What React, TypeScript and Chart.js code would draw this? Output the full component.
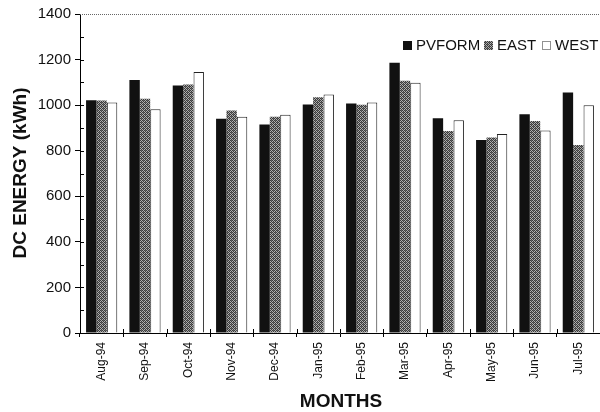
import React, { useEffect, useRef } from "react";
import { Chart, registerables } from "chart.js";

Chart.register(...registerables);

const months = ["Aug-94", "Sep-94", "Oct-94", "Nov-94", "Dec-94", "Jan-95", "Feb-95", "Mar-95", "Apr-95", "May-95", "Jun-95", "Jul-95"];
const pvform = [1022, 1110, 1086, 940, 915, 1003, 1007, 1186, 942, 847, 960, 1056];
const east = [1020, 1028, 1091, 977, 949, 1035, 1002, 1107, 886, 858, 930, 825];
const west = [1012, 982, 1146, 949, 958, 1047, 1012, 1098, 934, 873, 889, 999];
const yTicks = [0, 200, 400, 600, 800, 1000, 1200, 1400];
const seriesNames = ["PVFORM", "EAST", "WEST"];

const FONT = '"Liberation Sans", Arial, Helvetica, sans-serif';

function makePattern(): CanvasPattern | string {
  const c = document.createElement("canvas");
  c.width = 4;
  c.height = 4;
  const g = c.getContext("2d");
  if (!g) return "#777";
  g.fillStyle = "#b0b0b0";
  g.fillRect(0, 0, 4, 4);
  g.fillStyle = "#3a3a3a";
  for (let y = 0; y < 4; y++) {
    for (let x = 0; x < 4; x++) {
      if ((x + y) % 2 === 0) g.fillRect(x, y, 1, 1);
    }
  }
  g.fillStyle = "#666";
  g.fillRect(1, 2, 1, 1);
  g.fillRect(3, 0, 1, 1);
  const p = g.createPattern(c, "repeat");
  return p || "#777";
}

export default function App() {
  const ref = useRef<HTMLCanvasElement | null>(null);

  useEffect(() => {
    if (!ref.current) return;
    const pattern = makePattern();

    const decor = {
      id: "decor",
      afterDraw(chart: any) {
        const ctx = chart.ctx as CanvasRenderingContext2D;
        const a = chart.chartArea;
        const ys = chart.scales.y;
        const xs = chart.scales.x;
        ctx.save();
        // top dotted border
        ctx.strokeStyle = "#666";
        ctx.lineWidth = 1;
        ctx.setLineDash([1, 1]);
        ctx.beginPath();
        ctx.moveTo(a.left, a.top + 0.5);
        ctx.lineTo(a.right, a.top + 0.5);
        ctx.stroke();
        ctx.setLineDash([]);
        // inner ticks on y axis (every 100)
        ctx.strokeStyle = "#000";
        ctx.beginPath();
        for (let v = 100; v < 1400; v += 100) {
          const py = Math.round(ys.getPixelForValue(v)) + 0.5;
          ctx.moveTo(a.left, py);
          ctx.lineTo(a.left + 4, py);
        }
        // inner ticks on x axis at category boundaries
        const n = months.length;
        for (let i = 1; i < n; i++) {
          const px = Math.round((xs.getPixelForValue(i - 1) + xs.getPixelForValue(i)) / 2) + 0.5;
          ctx.moveTo(px, a.bottom);
          ctx.lineTo(px, a.bottom - 4);
        }
        ctx.stroke();

        // legend
        ctx.font = `15px ${FONT}`;
        ctx.textBaseline = "alphabetic";
        ctx.textAlign = "left";
        const fills: any[] = ["#111", pattern, "#fff"];
        const boxX = [403, 484, 542];
        for (let i = 0; i < 3; i++) {
          ctx.fillStyle = fills[i];
          ctx.fillRect(boxX[i], 41, 9, 9);
          if (i === 2) {
            ctx.strokeStyle = "#222";
            ctx.setLineDash([1, 1]);
            ctx.strokeRect(boxX[i] + 0.5, 41.5, 8, 8);
            ctx.setLineDash([]);
          }
          ctx.fillStyle = "#111";
          ctx.fillText(seriesNames[i], boxX[i] + 13, 50);
        }

        // axis titles
        ctx.font = `bold 19px ${FONT}`;
        ctx.fillStyle = "#111";
        ctx.textAlign = "center";
        ctx.fillText("MONTHS", 341, 407);
        ctx.save();
        ctx.translate(26, 173);
        ctx.rotate(-Math.PI / 2);
        ctx.textBaseline = "alphabetic";
        ctx.fillText("DC ENERGY (kWh)", 0, 0);
        ctx.restore();
        ctx.restore();
      },
    };

    const chart = new Chart(ref.current, {
      type: "bar",
      data: {
        labels: months,
        datasets: [
          {
            label: seriesNames[0],
            data: pvform,
            backgroundColor: "#111",
            borderColor: "#222",
            borderWidth: 0,
          },
          {
            label: seriesNames[1],
            data: east,
            backgroundColor: pattern as any,
            borderColor: "#333",
            borderWidth: 0,
          },
          {
            label: seriesNames[2],
            data: west,
            backgroundColor: "#fff",
            borderColor: "#222",
            borderWidth: 1,
          },
        ],
      },
      options: {
        responsive: false,
        animation: false,
        layout: { padding: { top: 14, right: 0, left: 0, bottom: 0 } },
        plugins: {
          legend: { display: false },
          tooltip: { enabled: false },
        },
        datasets: {
          bar: { categoryPercentage: 0.72, barPercentage: 1.0 },
        },
        scales: {
          x: {
            grid: {
              display: true,
              offset: true,
              drawOnChartArea: false,
              drawTicks: true,
              tickLength: 4,
              color: "#000",
            },
            border: { display: true, color: "#000", width: 1 },
            ticks: {
              minRotation: 90,
              maxRotation: 90,
              autoSkip: false,
              padding: 5,
              color: "#111",
              font: { family: FONT, size: 12 },
            },
            afterFit(scale: any) {
              scale.height = 79;
            },
          },
          y: {
            min: 0,
            max: 1400,
            afterBuildTicks(scale: any) {
              scale.ticks = yTicks.map((v) => ({ value: v }));
            },
            grid: {
              display: true,
              drawOnChartArea: false,
              drawTicks: true,
              tickLength: 5,
              color: "#000",
            },
            border: { display: true, color: "#000", width: 1 },
            ticks: {
              padding: 4,
              color: "#111",
              font: { family: FONT, size: 15 },
              callback: (v: any) => String(v),
            },
            afterFit(scale: any) {
              scale.width = 80;
            },
          },
        },
      },
      plugins: [decor],
    });

    return () => chart.destroy();
  }, []);

  return (
    <div style={{ position: "fixed", left: 0, top: 0, width: 600, height: 412, background: "#fff" }}>
      <canvas ref={ref} width={600} height={412} style={{ display: "block" }} />
    </div>
  );
}
